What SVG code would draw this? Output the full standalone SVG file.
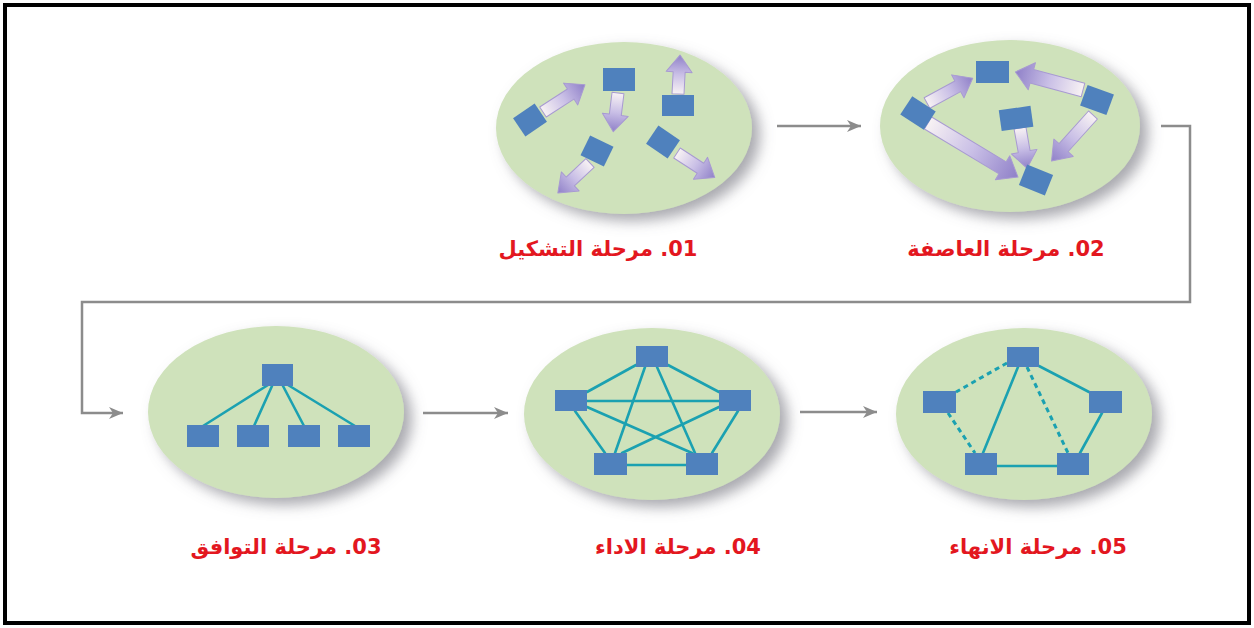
<svg xmlns="http://www.w3.org/2000/svg" width="1254" height="628" viewBox="0 0 1254 628">
  <style>
    .stage { fill: #cfe2bb; filter: url(#soft); }
    .box { fill: #4f81bd; }
    .link { stroke: #1ba1b1; stroke-width: 2.6; fill: none; stroke-linecap: round; }
    .dash { stroke-dasharray: 5 4; stroke-width: 3; stroke-linecap: butt; }
    .move { fill: url(#moveFill); stroke: #a89ad2; stroke-width: 1; stroke-linejoin: round; }
    .flow { stroke: #8c8c8c; stroke-width: 2.5; fill: none; marker-end: url(#head); }
    .label { font-family: "DejaVu Sans", sans-serif; font-size: 21px; font-weight: bold; fill: #e3171f; text-anchor: middle; direction: rtl; unicode-bidi: embed; }
  </style>
  <defs>
    <filter id="soft" x="-20%" y="-20%" width="150%" height="150%">
      <feGaussianBlur in="SourceAlpha" stdDeviation="7"/>
      <feOffset dx="8" dy="7" result="b"/>
      <feFlood flood-color="#70707a" flood-opacity="0.6"/>
      <feComposite in2="b" operator="in"/>
      <feMerge><feMergeNode/><feMergeNode in="SourceGraphic"/></feMerge>
    </filter>
    <linearGradient id="moveFill" x1="0" y1="0" x2="1" y2="0">
      <stop offset="0" stop-color="#f8f2f4"/>
      <stop offset="0.5" stop-color="#c9bfe6"/>
      <stop offset="1" stop-color="#8f80c8"/>
    </linearGradient>
    <marker id="head" markerUnits="userSpaceOnUse" markerWidth="16" markerHeight="12" refX="14" refY="6" orient="auto">
      <path d="M0,0 L14,6 L0,12 L4,6 Z" fill="#8c8c8c"/>
    </marker>
  </defs>

  <!-- outer frame -->
  <rect x="5" y="5" width="1244" height="618" fill="#ffffff" stroke="#000000" stroke-width="4"/>

  <!-- stage 01: forming -->
  <g id="stage-01">
    <ellipse class="stage" cx="624" cy="128" rx="128" ry="86"/>
    <path class="move" d="M0,-6 L33,-6 L33,-13 L50,0 L33,13 L33,6 L0,6 Z" transform="translate(543,112) rotate(-33)"/>
    <path class="move" d="M0,-6 L22,-6 L22,-13 L39,0 L22,13 L22,6 L0,6 Z" transform="translate(618,93) rotate(97)"/>
    <path class="move" d="M0,-6 L22,-6 L22,-13 L39,0 L22,13 L22,6 L0,6 Z" transform="translate(678,94) rotate(-87)"/>
    <path class="move" d="M0,-6 L27,-6 L27,-13 L44,0 L27,13 L27,6 L0,6 Z" transform="translate(590,163) rotate(137)"/>
    <path class="move" d="M0,-6 L28,-6 L28,-13 L45,0 L28,13 L28,6 L0,6 Z" transform="translate(677,153) rotate(33)"/>
    <rect class="box" x="-13" y="-11" width="26" height="22" transform="translate(530,120) rotate(-34)"/>
    <rect class="box" x="603" y="68" width="32" height="23"/>
    <rect class="box" x="662" y="95" width="32" height="21"/>
    <rect class="box" x="-13" y="-11" width="26" height="22" transform="translate(597,151) rotate(26)"/>
    <rect class="box" x="-13" y="-11" width="26" height="22" transform="translate(663,142) rotate(34)"/>
    <text class="label" x="598" y="256">01. مرحلة التشكيل</text>
  </g>

  <!-- stage 02: storming -->
  <g id="stage-02">
    <ellipse class="stage" cx="1010" cy="126" rx="130" ry="86"/>
    <path class="move" d="M0,-6 L35,-6 L35,-13 L52,0 L35,13 L35,6 L0,6 Z" transform="translate(927,103) rotate(-28.5)"/>
    <path class="move" d="M0,-7 L53,-7 L53,-14 L70,0 L53,14 L53,7 L0,7 Z" transform="translate(1083,90) rotate(-165)"/>
    <path class="move" d="M0,-7 L87,-7 L87,-14 L105,0 L87,14 L87,7 L0,7 Z" transform="translate(928,123) rotate(31)"/>
    <path class="move" d="M0,-6 L24,-6 L24,-13 L41,0 L24,13 L24,6 L0,6 Z" transform="translate(1020,128) rotate(80)"/>
    <path class="move" d="M0,-6 L44,-6 L44,-13 L62,0 L44,13 L44,6 L0,6 Z" transform="translate(1093,115) rotate(132)"/>
    <rect class="box" x="976" y="61" width="33" height="22"/>
    <rect class="box" x="-14" y="-11" width="28" height="22" transform="translate(918,113) rotate(33)"/>
    <rect class="box" x="-14" y="-11" width="28" height="22" transform="translate(1097,100) rotate(20)"/>
    <rect class="box" x="-16" y="-10" width="32" height="21" transform="translate(1016,118) rotate(-8)"/>
    <rect class="box" x="-14" y="-11" width="28" height="22" transform="translate(1036,180) rotate(22)"/>
    <text class="label" x="1006" y="256">02. مرحلة العاصفة</text>
  </g>

  <!-- stage 03: norming -->
  <g id="stage-03">
    <ellipse class="stage" cx="276" cy="412" rx="128" ry="86"/>
    <path class="link" d="M268,385 L203,426 M272,386 L254,426 M283,386 L304,426 M288,385 L355,426"/>
    <rect class="box" x="262" y="364" width="31" height="22"/>
    <rect class="box" x="187" y="425" width="32" height="22"/>
    <rect class="box" x="237" y="425" width="32" height="22"/>
    <rect class="box" x="288" y="425" width="32" height="22"/>
    <rect class="box" x="338" y="425" width="32" height="22"/>
    <text class="label" x="286" y="554">03. مرحلة التوافق</text>
  </g>

  <!-- stage 04: performing -->
  <g id="stage-04">
    <ellipse class="stage" cx="652" cy="414" rx="128" ry="86"/>
    <path class="link" d="M636,365 L587,392 M668,365 L719,392 M645,367 L615,453 M657,367 L695,453 M587,401 L719,401 M575,411 L605,453 M587,407 L692,453 M719,407 L622,453 M738,411 L712,453 M627,465 L686,465"/>
    <rect class="box" x="636" y="346" width="32" height="21"/>
    <rect class="box" x="555" y="390" width="32" height="21"/>
    <rect class="box" x="719" y="390" width="32" height="21"/>
    <rect class="box" x="594" y="453" width="33" height="22"/>
    <rect class="box" x="686" y="453" width="32" height="22"/>
    <text class="label" x="678" y="554">04. مرحلة الاداء</text>
  </g>

  <!-- stage 05: adjourning -->
  <g id="stage-05">
    <ellipse class="stage" cx="1024" cy="414" rx="128" ry="86"/>
    <path class="link dash" d="M1007,363 L956,392 M948,413 L975,453 M1027,367 L1068,453"/>
    <path class="link" d="M1018,367 L983,453 M1039,366 L1089,392 M1102,413 L1080,453"/>
    <path class="link" stroke-width="2" d="M997,466 L1057,466"/>
    <rect class="box" x="1007" y="347" width="32" height="20"/>
    <rect class="box" x="923" y="391" width="33" height="22"/>
    <rect class="box" x="1089" y="391" width="33" height="22"/>
    <rect class="box" x="965" y="453" width="32" height="22"/>
    <rect class="box" x="1057" y="453" width="32" height="22"/>
    <text class="label" x="1038" y="554">05. مرحلة الانهاء</text>
  </g>

  <!-- flow between stages -->
  <g id="connectors">
    <path class="flow" d="M777,126 L861,126"/>
    <path class="flow" d="M1161,126 L1190,126 L1190,302 L82,302 L82,413 L123,413"/>
    <path class="flow" d="M423,413 L508,413"/>
    <path class="flow" d="M800,412 L877,412"/>
  </g>
</svg>
